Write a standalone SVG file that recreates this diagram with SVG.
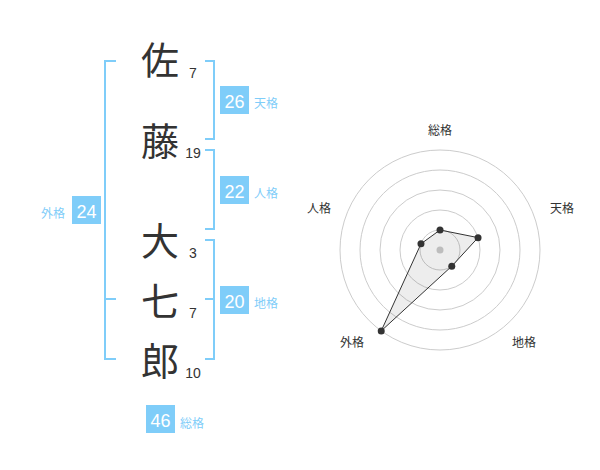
<svg xmlns="http://www.w3.org/2000/svg" width="600" height="470" viewBox="0 0 600 470">
<style>
.kanji{font-family:"Noto Sans CJK JP","Noto Sans CJK SC",sans-serif;font-size:38px;fill:#333;text-anchor:middle}
.stroke{font-family:"Liberation Sans",Arial,sans-serif;font-size:14px;fill:#333;text-anchor:middle}
.box{fill:#7fcdf9}
.boxnum{font-family:"Liberation Sans",Arial,sans-serif;font-size:18px;fill:#fff;text-anchor:middle}
.lbl{font-family:"Noto Sans CJK JP","Noto Sans CJK SC",sans-serif;font-size:12px;fill:#7fcdf9}
.br{fill:none;stroke:#7fcdf9;stroke-width:2}
.ring{fill:none;stroke:#ccc;stroke-width:1}
.axis{font-family:"Noto Sans CJK JP","Noto Sans CJK SC",sans-serif;font-size:12px;fill:#333;text-anchor:middle}
.pt{fill:#333}
</style>
<rect width="600" height="470" fill="#fff"/>
<g id="name">
<g id="c1"><text class="kanji" x="160" y="74">佐</text><text class="stroke" x="193" y="78">7</text></g>
<g id="c2"><text class="kanji" x="160" y="155">藤</text><text class="stroke" x="193" y="158">19</text></g>
<g id="c3"><text class="kanji" x="160" y="255">大</text><text class="stroke" x="193" y="258">3</text></g>
<g id="c4"><text class="kanji" x="160" y="315">七</text><text class="stroke" x="193" y="318">7</text></g>
<g id="c5"><text class="kanji" x="160" y="375">郎</text><text class="stroke" x="193" y="378">10</text></g>
</g>
<g id="connectors">
<path class="br" d="M116,61 H105 V359 H116 M105,299 H116"/>
<path class="br" d="M205,61 H214 V139 H205"/>
<path class="br" d="M205,150 H214 V229 H205"/>
<path class="br" d="M205,240 H214 V359 H205 M214,299 H205"/>
</g>
<g id="tenkaku"><rect class="box" x="220" y="86" width="29" height="28"/><text class="boxnum" x="234.5" y="108">26</text><text class="lbl" x="254" y="108">天格</text></g>
<g id="jinkaku"><rect class="box" x="220" y="176" width="29" height="28"/><text class="boxnum" x="234.5" y="198">22</text><text class="lbl" x="254" y="198">人格</text></g>
<g id="chikaku"><rect class="box" x="220" y="286" width="29" height="28"/><text class="boxnum" x="234.5" y="308">20</text><text class="lbl" x="254" y="308">地格</text></g>
<g id="gaikaku"><rect class="box" x="72" y="196" width="29" height="28"/><text class="boxnum" x="86.5" y="218">24</text><text class="lbl" x="65" y="218" text-anchor="end">外格</text></g>
<g id="soukaku"><rect class="box" x="146" y="405" width="29" height="28"/><text class="boxnum" x="160.5" y="427">46</text><text class="lbl" x="180" y="428">総格</text></g>
<g id="radar">
<circle class="ring" cx="440" cy="250" r="100"/>
<circle class="ring" cx="440" cy="250" r="80"/>
<circle class="ring" cx="440" cy="250" r="60"/>
<circle class="ring" cx="440" cy="250" r="40"/>
<circle class="ring" cx="440" cy="250" r="20"/>
<circle cx="440" cy="250" r="3.5" fill="#ccc"/>
<polygon points="440,230 478.04,237.64 451.76,266.18 381.22,330.9 420.98,243.82" fill="#000" fill-opacity="0.07" stroke="#333" stroke-width="1"/>
<circle class="pt" cx="440" cy="230" r="3.5"/>
<circle class="pt" cx="478.04" cy="237.64" r="3.5"/>
<circle class="pt" cx="451.76" cy="266.18" r="3.5"/>
<circle class="pt" cx="381.22" cy="330.9" r="3.5"/>
<circle class="pt" cx="420.98" cy="243.82" r="3.5"/>
<text class="axis" x="440" y="135">総格</text>
<text class="axis" x="562" y="213">天格</text>
<text class="axis" x="319" y="213">人格</text>
<text class="axis" x="352" y="347">外格</text>
<text class="axis" x="524" y="347">地格</text>
</g>
</svg>
